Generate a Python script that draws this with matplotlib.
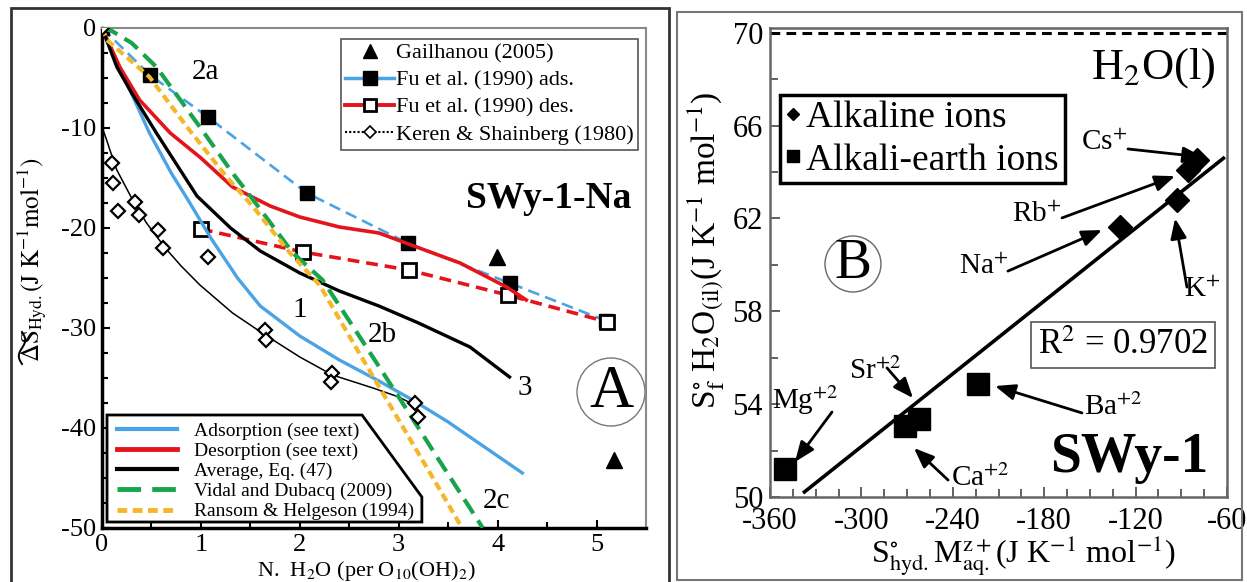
import matplotlib
matplotlib.use('Agg')
import matplotlib.pyplot as plt
from matplotlib.lines import Line2D
from matplotlib.patches import Polygon, Ellipse, Rectangle
import numpy as np

SERIF = 'Liberation Serif'
plt.rcParams['font.family'] = 'serif'
plt.rcParams['font.serif'] = [SERIF, 'DejaVu Serif']
plt.rcParams['mathtext.fontset'] = 'stix'
plt.rcParams['axes.unicode_minus'] = False
plt.rcParams['lines.scale_dashes'] = False

BLUE = '#4aa3e4'
RED = '#e3141b'
GREEN = '#17a44a'
YELLOW = '#f4b729'

# ---------- panel A data (N H2O vs entropy of hydration) ----------
a_xticks = [0, 1, 2, 3, 4, 5]
a_xticklabels = ['0', '1', '2', '3', '4', '5']
a_yticks = [0, -10, -20, -30, -40, -50]
a_yticklabels = ['0', '-10', '-20', '-30', '-40', '-50']

gail_x = [3.99, 5.18]
gail_y = [-22.9, -43.2]

fu_ads_x = [0.0, 0.485, 1.07, 2.07, 3.09, 4.12, 5.10]
fu_ads_y = [0.0, -4.7, -8.9, -16.5, -21.5, -25.5, -29.3]

fu_des_x = [1.0, 2.03, 3.10, 4.10, 5.11]
fu_des_y = [-20.1, -22.4, -24.2, -26.7, -29.4]

keren_x = [0.0, 0.10, 0.11, 0.16, 0.33, 0.37, 0.57, 0.62, 1.07, 1.65, 1.66,
           2.33, 2.32, 3.16, 3.19]
keren_y = [0.0, -13.5, -15.5, -18.3, -17.4, -18.7, -20.2, -22.0, -22.9, -30.2,
           -31.2, -34.5, -35.4, -37.5, -38.9]

keren_fit_x = [0.0, 0.04, 0.08, 0.15, 0.31, 0.45, 0.64, 0.80, 0.99, 1.32, 1.65,
               2.0, 2.33, 2.74, 3.0, 3.16, 3.21]
keren_fit_y = [-9.9, -11.0, -12.2, -14.2, -17.2, -19.5, -22.0, -23.8, -25.7,
               -28.5, -30.7, -32.9, -34.7, -36.0, -36.9, -37.7, -38.6]

adsorp_x = [0.0, 0.25, 0.48, 0.70, 0.87, 1.10, 1.37, 1.60, 2.0, 2.4, 2.8, 3.14,
            3.5, 3.72, 4.0, 4.25]
adsorp_y = [0.0, -5.5, -10.5, -14.5, -17.2, -21.0, -25.0, -27.8, -30.8, -33.2,
            -35.3, -37.2, -39.4, -40.9, -42.8, -44.5]

desorp_x = [0.0, 0.18, 0.38, 0.69, 1.0, 1.32, 1.7, 2.0, 2.4, 2.8, 3.18, 3.62,
            4.09, 4.29]
desorp_y = [0.0, -3.9, -7.2, -10.5, -13.0, -15.9, -17.8, -18.9, -19.9, -20.5,
            -21.9, -23.5, -25.9, -27.2]

avg_x = [0.0, 0.15, 0.30, 0.55, 0.96, 1.3, 1.6, 2.0, 2.4, 2.8, 3.2, 3.72, 4.12]
avg_y = [0.0, -3.9, -6.5, -10.5, -16.8, -20.0, -22.3, -24.5, -26.3, -27.8,
         -29.5, -31.9, -34.9]

vidal_x = [0.0, 0.1, 0.3, 0.55, 0.99, 1.32, 1.53, 1.93, 2.23, 2.6, 3.0, 3.4,
           3.85]
vidal_y = [0.0, -0.3, -1.5, -3.9, -9.9, -14.5, -17.2, -22.5, -25.2, -30.8,
           -36.9, -43.1, -50.0]

ransom_x = [0.0, 0.05, 0.48, 0.86, 1.26, 1.53, 1.9, 2.2, 2.6, 3.0, 3.4, 3.64]
ransom_y = [0.0, -1.2, -4.9, -9.9, -14.9, -17.9, -22.5, -25.7, -32.5, -39.2,
            -45.9, -50.0]

# ---------- panel B data ----------
b_xticks = [-360, -300, -240, -180, -120, -60]
b_xticklabels = ['-360', '-300', '-240', '-180', '-120', '-60']
b_yticks = [50, 54, 58, 62, 66, 70]
b_yticklabels = ['50', '54', '58', '62', '66', '70']

alk_names = ['Na', 'K', 'Rb', 'Cs']
alk_x = [-130.3, -92.9, -85.7, -79.8]
alk_y = [61.63, 62.79, 64.08, 64.51]

ae_names = ['Mg', 'Ca', 'Sr', 'Ba']
ae_x = [-350.2, -271.4, -262.2, -223.5]
ae_y = [51.21, 53.06, 53.36, 54.87]

fit_x = [-338.3, -61.4]
fit_y = [50.17, 64.64]

h2o_liquid = 70.0

fig = plt.figure(figsize=(12.47, 5.82), dpi=100)

# outer panel frames
fig.patches.append(Rectangle((11 / 1247, -0.02), 658 / 1247, 1.02 - 8 / 582,
                             transform=fig.transFigure, fill=False,
                             edgecolor='#333333', lw=2))
fig.patches.append(Rectangle((677 / 1247, 2 / 582), 565 / 1247, 568 / 582,
                             transform=fig.transFigure, fill=False,
                             edgecolor='#777777', lw=1.5))

# ================= panel A =================
ax = fig.add_axes([102 / 1247, 54 / 582, 544 / 1247, 500 / 582])

ax.plot(fu_ads_x, fu_ads_y, color=BLUE, lw=1.9, dashes=(8.5, 4.5), zorder=2)
ax.plot(fu_ads_x, fu_ads_y, 's', color='k', ms=10, zorder=3)
ax.plot(fu_des_x, fu_des_y, color=RED, lw=2.6, dashes=(8.5, 5), zorder=2)
ax.plot(fu_des_x, fu_des_y, 's', mfc='white', mec='k', mew=2, ms=9.5, zorder=3)
ax.plot(gail_x, gail_y, '^', color='k', ms=11, zorder=3)

ax.plot(keren_fit_x, keren_fit_y, color='k', lw=1.1, zorder=4)
ax.plot(adsorp_x, adsorp_y, color=BLUE, lw=2.4, zorder=4)
ax.plot(desorp_x, desorp_y, color=RED, lw=2.6, zorder=4)
ax.plot(avg_x, avg_y, color='k', lw=2.4, zorder=4)
ax.plot(vidal_x, vidal_y, color=GREEN, lw=3, dashes=(12, 6), zorder=5)
ax.plot(ransom_x, ransom_y, color=YELLOW, lw=3, dashes=(6, 3.5), zorder=6)
ax.plot(keren_x, keren_y, 'D', mfc='white', mec='k', mew=1.6, ms=7, zorder=7)

ax.set_xlim(0, 5.5)
ax.set_ylim(-50, 0)
ax.set_xticks(a_xticks)
ax.set_xticklabels(a_xticklabels, fontfamily=SERIF)
ax.set_xticks(np.arange(0, 5.5, 0.5), minor=True)
ax.set_yticks(a_yticks)
ax.set_yticklabels(a_yticklabels, fontfamily=SERIF)
ax.set_yticks(np.arange(-50, 0.1, 2.5), minor=True)
ax.tick_params(which='both', direction='in', width=1.5, labelsize=19)
ax.tick_params(which='major', length=6, pad=4)
ax.tick_params(which='minor', length=4)
for s in ['left', 'bottom']:
    ax.spines[s].set_linewidth(2.5)
    ax.spines[s].set_color('k')
for s in ['top', 'right']:
    ax.spines[s].set_linewidth(1.5)
    ax.spines[s].set_color('#8a8a8a')

ax.set_xlabel(r'N.  H$_2$O (per O$_{10}$(OH)$_2$)', fontsize=16)
ax.xaxis.set_label_coords(0.485, -0.062)
ax.xaxis.label.set_va('top')
ax.set_ylabel(r'$\Delta \mathrm{S}_{\mathrm{Hyd.}}(\mathrm{J\ K^{-1}mol^{-1}})$',
              fontsize=18)
ax.yaxis.set_label_coords(-0.098, 0.536)
# wide tilde drawn over the Delta S of the rotated y label
t = np.linspace(0, 2 * np.pi, 60)
fig.add_artist(Line2D((22 - 3.2 * np.sin(t)) / 1247,
                      1 - (364 - 32 * t / (2 * np.pi)) / 582,
                      transform=fig.transFigure, color='k', lw=1.4))

leg1_handles = [
    Line2D([], [], ls='none', marker='^', color='k', ms=10),
    Line2D([], [], color=BLUE, lw=2.5, marker='s', mfc='k', mec='k', ms=10),
    Line2D([], [], color=RED, lw=2.8, marker='s', mfc='white', mec='k', mew=2, ms=8),
    Line2D([], [], color='k', lw=1.5, ls=(0, (1.5, 1.5)), marker='D', mfc='white',
           mec='k', mew=1.2, ms=6),
]
leg1_labels = ['Gailhanou (2005)', 'Fu et al. (1990) ads.', 'Fu et al. (1990) des.',
               'Keren & Shainberg (1980)']
leg1 = ax.legend(leg1_handles, leg1_labels, loc='upper right',
                 bbox_to_anchor=(0.986, 0.979), fontsize=16, handlelength=2.2,
                 handletextpad=0.1, borderpad=0.2, labelspacing=0.3,
                 borderaxespad=0, fancybox=False, framealpha=1)
leg1.get_frame().set_edgecolor('#555555')
leg1.get_frame().set_linewidth(1.2)
ax.add_artist(leg1)

# chamfered box for the model legend
box = Polygon([(0.0092, 0.012), (0.0092, 0.226), (0.478, 0.226), (0.588, 0.062),
               (0.588, 0.012)], closed=True, transform=ax.transAxes,
              facecolor='white', edgecolor='k', lw=2, zorder=8)
ax.add_patch(box)
leg2_handles = [
    Line2D([], [], color=BLUE, lw=3),
    Line2D([], [], color=RED, lw=3.5),
    Line2D([], [], color='k', lw=3),
    Line2D([], [], color=GREEN, lw=3.5, dashes=(17, 8)),
    Line2D([], [], color=YELLOW, lw=3.5, dashes=(7, 4)),
]
leg2_labels = ['Adsorption (see text)', 'Desorption (see text)', 'Average, Eq. (47)',
               'Vidal and Dubacq (2009)', 'Ransom & Helgeson (1994)']
leg2 = ax.legend(leg2_handles, leg2_labels, loc='upper left',
                 bbox_to_anchor=(0.027, 0.212), fontsize=14, handlelength=3.1,
                 handletextpad=0.9, borderpad=0, labelspacing=0.13,
                 borderaxespad=0, frameon=False)
leg2.set_zorder(9)

ax.text(1.05, -4.4, '2a', fontsize=21, ha='center', va='center')
ax.text(2.0, -28.2, '1', fontsize=21, ha='center', va='center')
ax.text(2.83, -30.7, '2b', fontsize=21, ha='center', va='center')
ax.text(4.27, -36.0, '3', fontsize=21, ha='center', va='center')
ax.text(3.99, -47.3, '2c', fontsize=21, ha='center', va='center')
ax.text(4.52, -17.1, 'SWy-1-Na', fontsize=27, fontweight='bold', ha='center',
        va='center')
ax.add_patch(Ellipse((0.9357, 0.272), 0.125, 0.136, transform=ax.transAxes,
                     fill=False, edgecolor='#777777', lw=1))
ax.text(0.9357, 0.272, 'A', transform=ax.transAxes, fontsize=44, ha='center',
        va='center')

# ================= panel B =================
bx = fig.add_axes([770 / 1247, 85 / 582, 457 / 1247, 469 / 582])

bx.axhline(h2o_liquid, color='k', lw=2.2, dashes=(7, 4.5))
bx.plot(fit_x, fit_y, color='k', lw=2.6, solid_capstyle='butt')
bx.plot(alk_x, alk_y, 'D', color='k', ms=12.5)
bx.plot(ae_x, ae_y, 's', color='k', ms=16)

bx.set_xlim(-360, -60)
bx.set_ylim(50, 70.2)
bx.set_xticks(b_xticks)
bx.set_xticklabels(b_xticklabels, fontfamily=SERIF)
bx.set_xticks(np.arange(-360, -59, 15), minor=True)
bx.set_yticks(b_yticks)
bx.set_yticklabels(b_yticklabels, fontfamily=SERIF)
bx.set_yticks(np.arange(50, 70.1, 2), minor=True)
bx.tick_params(which='both', direction='in', width=1.3, labelsize=22, colors='#555555',
               labelcolor='k')
bx.tick_params(which='major', length=7, pad=5)
bx.tick_params(axis='x', which='major', pad=7)
bx.tick_params(which='minor', length=6)
for s in bx.spines.values():
    s.set_color('#666666')
    s.set_linewidth(1.8)

bx.set_xlabel(r'S$^{\circ}_{\mathrm{hyd.}}$M$^{\mathrm{z+}}_{\mathrm{aq.}}$'
              r'(J K$^{\mathrm{-1}}$ mol$^{\mathrm{-1}}$)', fontsize=23)
bx.xaxis.set_label_coords(0.554, -0.078)
bx.xaxis.label.set_va('top')
bx.set_ylabel(r'S$^{\circ}_{\mathrm{f}}$ H$_2$O$_{\mathrm{(il)}}$'
              r'(J K$^{\mathrm{-1}}$ mol$^{\mathrm{-1}}$)', fontsize=24)
bx.yaxis.set_label_coords(-0.094, 0.527)

legB_handles = [Line2D([], [], ls='none', marker='D', color='k', ms=6),
                Line2D([], [], ls='none', marker='s', color='k', ms=8)]
legB = bx.legend(legB_handles, ['Alkaline ions', 'Alkali-earth ions'],
                 loc='upper left', bbox_to_anchor=(0.022, 0.857), fontsize=27,
                 handlelength=0.4, handletextpad=0.15, borderpad=0.15,
                 labelspacing=0.21, borderaxespad=0, fancybox=False, framealpha=1)
legB.get_frame().set_edgecolor('k')
legB.get_frame().set_linewidth(2.5)

arrow = dict(arrowstyle='-|>,head_length=0.55,head_width=0.22', color='k', lw=2,
             mutation_scale=22, shrinkA=0, shrinkB=0)
ion_labels = [
    (r'Cs$^{+}$', (-141, 65.25), (-125, 64.99), (-75.7, 64.64)),
    (r'Rb$^{+}$', (-185, 62.15), (-168.3, 62.02), (-94.1, 63.82)),
    (r'Na$^{+}$', (-220, 59.9), (-203.8, 59.73), (-142, 61.5)),
    (r'K$^{+}$', (-76, 58.9), (-86.3, 59.04), (-94.1, 62.0)),
    (r'Mg$^{+2}$', (-337, 54.15), (-319.3, 53.66), (-343.6, 51.51)),
    (r'Sr$^{+2}$', (-291, 55.4), (-283.2, 55.56), (-266.1, 54.26)),
    (r'Ca$^{+2}$', (-222, 50.8), (-243.1, 50.73), (-265.5, 52.11)),
    (r'Ba$^{+2}$', (-135, 53.85), (-155.2, 53.62), (-212.3, 54.78)),
]
for lab, pos, tail, tip in ion_labels:
    bx.text(pos[0], pos[1], lab, fontsize=21, ha='center', va='center')
    bx.annotate('', xy=tip, xytext=tail, arrowprops=arrow)

bx.text(0.838, 0.915, r'H$_2$O(l)', transform=bx.transAxes, fontsize=32,
        ha='center', va='center')
bx.text(0.772, 0.324, r'R$^2$ = 0.9702', transform=bx.transAxes, fontsize=25,
        ha='center', va='center',
        bbox=dict(boxstyle='square,pad=0.2', facecolor='white', edgecolor='#555555',
                  lw=1.2))
bx.text(0.786, 0.083, 'SWy-1', transform=bx.transAxes, fontsize=40,
        fontweight='bold', ha='center', va='center')
bx.add_patch(Ellipse((0.1816, 0.4968), 0.1225, 0.1194, transform=bx.transAxes,
                     fill=False, edgecolor='#666666', lw=1))
bx.text(0.1816, 0.4968, 'B', transform=bx.transAxes, fontsize=40, ha='center',
        va='center')

fig.savefig('out.png', dpi=100)
